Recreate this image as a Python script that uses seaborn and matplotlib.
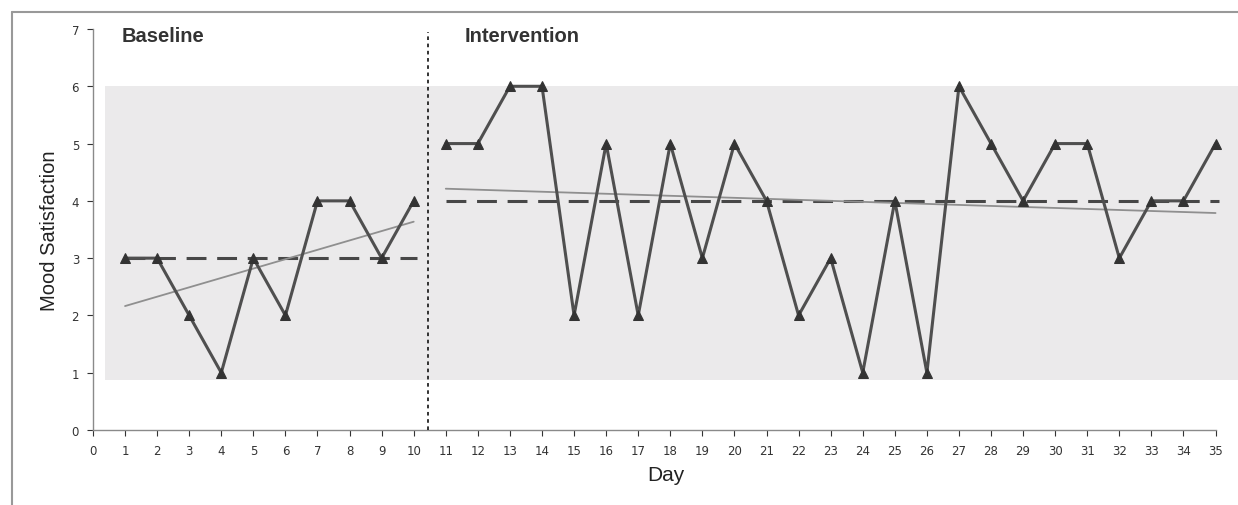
import numpy as np
import pandas as pd
import matplotlib
matplotlib.use("Agg")
import matplotlib.pyplot as plt
from matplotlib.lines import Line2D
import seaborn as sns

baseline_days = [1, 2, 3, 4, 5, 6, 7, 8, 9, 10]
baseline_vals = [3, 3, 2, 1, 3, 2, 4, 4, 3, 4]
interv_days = list(range(11, 36))
interv_vals = [5, 5, 6, 6, 2, 5, 2, 5, 3, 5, 4, 2, 3, 1, 4, 1, 6, 5, 4, 5, 5, 3, 4, 4, 5]
phase_labels = ["Baseline", "Intervention"]
x_ticks = list(range(0, 36))
y_ticks = list(range(0, 8))
band_low, band_high = 0.87, 6.0
phase_change = 10.45

sns.set_theme(style="white")
plt.rcParams['font.family'] = ['DejaVu Sans']

df = pd.concat([
    pd.DataFrame({"Day": baseline_days, "Mood": baseline_vals, "Phase": phase_labels[0]}),
    pd.DataFrame({"Day": interv_days, "Mood": interv_vals, "Phase": phase_labels[1]}),
])

fig = plt.figure(figsize=(12.38, 5.06), dpi=100)
ax = fig.add_axes([0.0751, 0.1482, 0.9249, 0.7925])

ax.axvspan(0.37, 35.7, ymin=band_low / 7, ymax=band_high / 7, color="#ebeaeb", lw=0, zorder=0)

for ph in phase_labels:
    sub = df[df.Phase == ph]
    sns.lineplot(data=sub, x="Day", y="Mood", ax=ax, color="#4f4f4f", lw=2.2,
                 marker="^", markersize=6.5, markeredgecolor="#333333",
                 markerfacecolor="#333333", zorder=4, legend=False)
    x = sub.Day.values.astype(float)
    y = sub.Mood.values.astype(float)
    med = np.median(y)
    ax.plot([x.min(), x.max() + 0.1], [med, med], color="#474747", lw=2.2,
            dashes=(6.5, 3.5), zorder=3)
    k, b = np.polyfit(x, y, 1)
    ax.plot([x.min(), x.max()], [k * x.min() + b, k * x.max() + b], color="#8f8f8f",
            lw=1.3, zorder=3)

ax.plot([phase_change, phase_change], [0, 6.95], color="#222222", lw=1.3,
        linestyle=(0, (2, 2)), zorder=5)

ax.set_xlim(0, 35.7)
ax.set_ylim(0, 7)
ax.set_xticks(x_ticks)
ax.set_yticks(y_ticks)
ax.tick_params(axis="both", labelsize=8.5, colors="#333333", length=4, width=0.8,
               direction="out", pad=6)
for sp in ["top", "right"]:
    ax.spines[sp].set_visible(False)
for sp in ["left", "bottom"]:
    ax.spines[sp].set_color("#8a8a8a")
    ax.spines[sp].set_linewidth(1.0)
ax.spines["bottom"].set_bounds(0, 35)
ax.tick_params(axis="both", which="both", bottom=True, left=True)

lab_font = ['Liberation Sans', 'DejaVu Sans']
ax.set_xlabel("Day", fontsize=15, color="#222222", labelpad=6, family=lab_font)
ax.set_ylabel("Mood Satisfaction", fontsize=14.5, color="#222222", labelpad=9, family=lab_font)

ax.text(0.9, 6.88, phase_labels[0], fontsize=14.5, fontweight="bold", color="#333333",
        va="center", family=lab_font)
ax.text(11.6, 6.88, phase_labels[1], fontsize=14.5, fontweight="bold", color="#333333",
        va="center", family=lab_font)

# outer frame (top and left edges)
fig.add_artist(Line2D([12 / 1238, 1], [1 - 13 / 506, 1 - 13 / 506], color="#999999", lw=1.5))
fig.add_artist(Line2D([12 / 1238, 12 / 1238], [0, 1 - 13 / 506], color="#999999", lw=1.5))

fig.savefig("out.png", dpi=100)
